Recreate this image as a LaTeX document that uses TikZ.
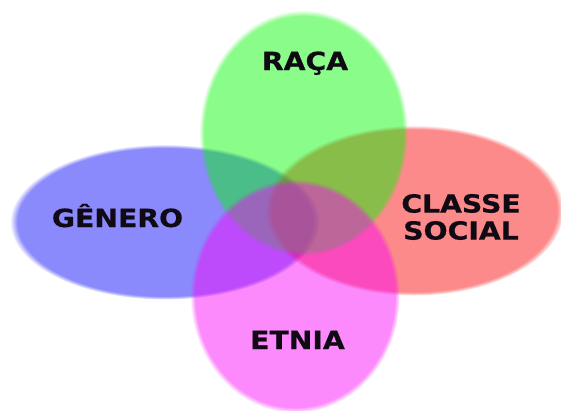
\documentclass[tikz,border=0pt]{standalone}
\usepackage{fontspec}
\setmainfont{DejaVu Sans}
\newfontfamily\lblfont{DejaVu Sans Bold}[FakeStretch=1.13, FakeBold=0.6]
\usetikzlibrary{fadings}
\pgfdeclareradialshading{softrimshade}{\pgfpointorigin}{color(0bp)=(white); color(23.8bp)=(white); color(25bp)=(black); color(50bp)=(black)}
\pgfdeclarefading{softrim}{\pgfuseshading{softrimshade}}
\definecolor{cgreen}{RGB}{0,250,0}
\definecolor{cblue}{RGB}{0,0,250}
\definecolor{cred}{RGB}{250,0,0}
\definecolor{cmag}{RGB}{250,0,250}
\definecolor{ink}{RGB}{15,10,20}
\tikzset{
  blob/.style={fill=#1, fill opacity=0.46, path fading=softrim},
  lbl/.style={font=\lblfont\fontsize{25}{27}\selectfont, text=ink, inner sep=0pt, align=center}
}
\begin{document}
\begin{tikzpicture}[x=1pt,y=-1pt]
\useasboundingbox (0,0) rectangle (561,410);
\fill[white] (0,0) rectangle (561,410);
% ellipses (drawn in this stacking order)
\fill[blob=cblue]  (165,222)   ellipse [x radius=154.5, y radius=77.5];
\fill[blob=cred]   (414.5,210.5) ellipse [x radius=149, y radius=85];
\fill[blob=cgreen] (303.5,133) ellipse [x radius=104, y radius=122.5];
\fill[blob=cmag]   (295,296)   ellipse [x radius=104.5, y radius=116.5];
% labels
\node[lbl, anchor=base] (raca) at (305,70) {RAÇA};
\node[lbl, anchor=base] (genero) at (117.5,227) {GÊNERO};
\node[lbl] (classe) at (461,217) {CLASSE\\SOCIAL};
\node[lbl, anchor=base] (etnia) at (297.5,349) {ETNIA};
\end{tikzpicture}
\end{document}
